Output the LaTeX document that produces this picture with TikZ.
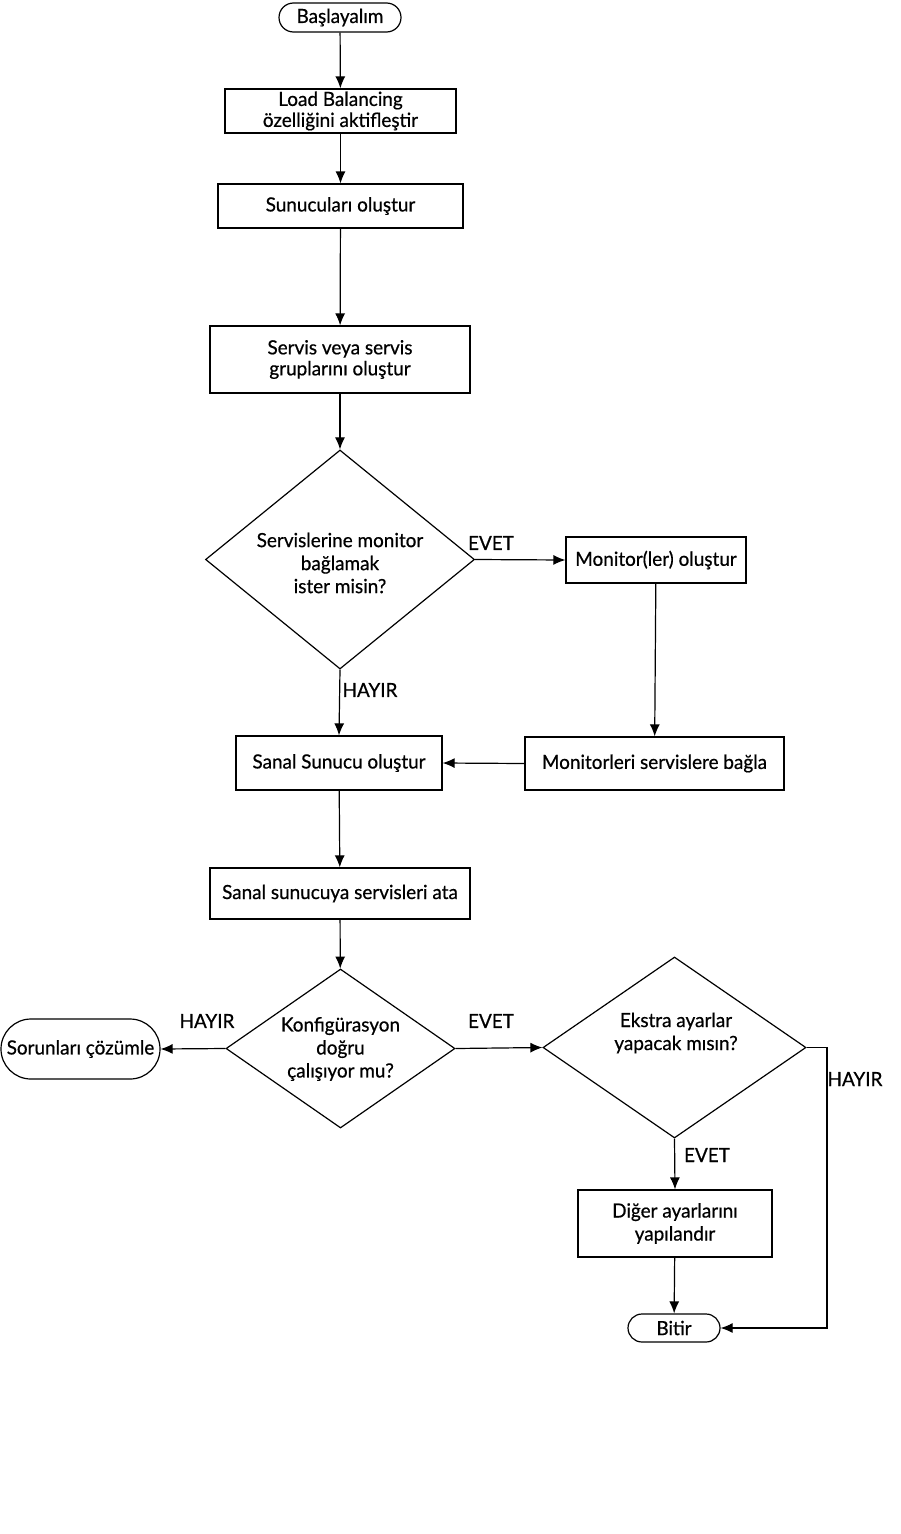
\documentclass[tikz,border=0pt]{standalone}
\usepackage{fontspec}
\setmainfont[FakeStretch=0.97,FakeBold=0.6]{Lato}
\usetikzlibrary{shapes.geometric,shapes.misc,arrows.meta}
\begin{document}
\begin{tikzpicture}[x=1pt,y=-1pt,
  every node/.style={font=\fontsize{19.5}{23}\selectfont, text=black},
  tight/.style={font=\fontsize{19.5}{21}\selectfont},
  box/.style={draw, line width=1.2pt, rectangle, inner sep=0pt, align=center},
  term/.style={draw, line width=1.2pt, rounded rectangle, inner sep=0pt, align=center},
  dec/.style={draw, line width=1.2pt, diamond, inner sep=0pt, align=center},
  lbl/.style={inner sep=0pt, anchor=center},
  conn/.style={line width=1.2pt, -{Latex[length=12pt,width=10pt]}}]
\useasboundingbox (0,0) rectangle (900,1534);
\fill[white] (0,0) rectangle (900,1534);

\node[term, minimum width=122pt, minimum height=29pt] (start) at (340,17.5) {Başlayalım};
\node[box, tight, minimum width=231pt, minimum height=44pt] (lb) at (340.5,111) {Load Balancing\\özelliğini aktifleştir};
\node[box, minimum width=245pt, minimum height=44pt] (sun) at (340.5,206) {Sunucuları oluştur};
\node[box, tight, minimum width=260pt, minimum height=67pt] (srv) at (340,359.5) {Servis veya servis\\gruplarını oluştur};
\node[dec, minimum width=269pt, minimum height=219pt] (d1) at (340,559.5) {};
\node[lbl, align=center] (d1t) at (340,563) {Servislerine monitor\\bağlamak\\ister misin?};
\node[box, minimum width=180pt, minimum height=46pt] (mon) at (656,560) {Monitor(ler) oluştur};
\node[box, minimum width=259pt, minimum height=53pt] (monb) at (654.5,763.5) {Monitorleri servislere bağla};
\node[box, minimum width=206pt, minimum height=54pt] (vs) at (339,763) {Sanal Sunucu oluştur};
\node[box, minimum width=260pt, minimum height=51pt] (ata) at (340,893.5) {Sanal sunucuya servisleri ata};
\node[dec, minimum width=229pt, minimum height=159pt] (d2) at (340.5,1048.5) {};
\node[lbl, align=center] (d2t) at (340.5,1049) {Konfigürasyon\\doğru\\çalışıyor mu?};
\node[term, minimum width=159pt, minimum height=60pt] (sor) at (80.5,1049) {Sorunları çözümle};
\node[dec, minimum width=263pt, minimum height=181pt] (d3) at (674.5,1047.5) {};
\node[lbl, align=center] (d3t) at (676,1033) {Ekstra ayarlar\\yapacak mısın?};
\node[box, minimum width=194pt, minimum height=67pt] (dig) at (675,1223.5) {Diğer ayarlarını\\yapılandır};
\node[term, minimum width=92pt, minimum height=28pt] (bitir) at (674,1328) {Bitir};

\node[lbl] (evet1) at (491,543) {EVET};
\node[lbl] (hayir1) at (370,690) {HAYIR};
\node[lbl] (hayir2) at (207,1021) {HAYIR};
\node[lbl] (evet2) at (491,1021) {EVET};
\node[lbl] (evet3) at (707,1155) {EVET};
\node[lbl] (hayir3) at (855,1079) {HAYIR};

\coordinate (c3a) at (827,1047.5);
\coordinate (c3b) at (827,1328);

\draw[conn] (start) -- (lb);
\draw[conn] (lb) -- (sun);
\draw[conn] (sun) -- (srv);
\draw[conn] (srv) -- (d1);
\draw[conn] (d1.east) -- (mon.west);
\draw[conn] (mon) -- (monb);
\draw[conn] (monb.west) -- (vs.east);
\draw[conn] (d1.south) -- (vs.north);
\draw[conn] (vs) -- (ata);
\draw[conn] (ata) -- (d2);
\draw[conn] (d2.west) -- (sor.east);
\draw[conn] (d2.east) -- (d3.west);
\draw[conn] (d3.south) -- (dig.north);
\draw[conn] (dig) -- (bitir);
\draw[conn] (d3.east) -- (c3a) -- (c3b) -- (bitir.east);
\end{tikzpicture}
\end{document}
